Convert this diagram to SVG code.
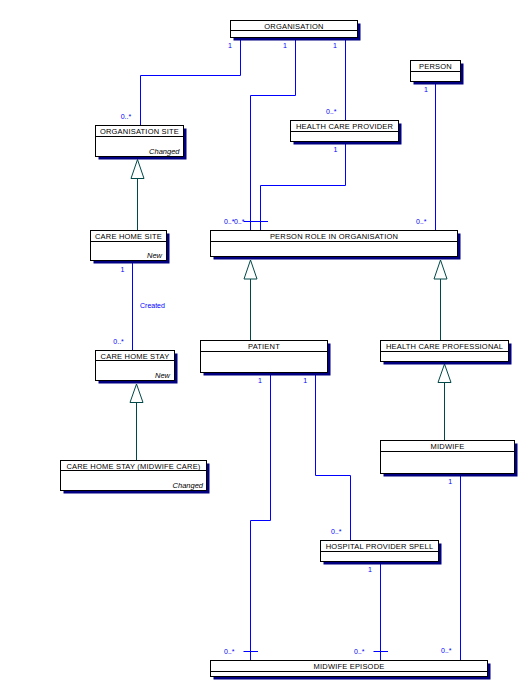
<svg xmlns="http://www.w3.org/2000/svg" width="529" height="691" viewBox="0 0 529 691">
<style>
.box{fill:#fff;stroke:#000;stroke-width:1}
.sh{fill:#000080}
.hd{stroke:#000;stroke-width:1}
.t{font-family:"Liberation Sans",Arial,sans-serif;font-size:7.5px;fill:#000;text-anchor:middle;letter-spacing:0.2px}
.st{font-family:"Liberation Sans",Arial,sans-serif;font-size:7.5px;font-style:italic;fill:#000;text-anchor:end}
.c{fill:none;stroke:#0000ff;stroke-width:1}
.g{fill:none;stroke:#004848;stroke-width:1}
.tri{fill:#fff;stroke:#004848;stroke-width:1}
.l{font-family:"Liberation Sans",Arial,sans-serif;font-size:7px;fill:#0000ff}
.lm{font-family:"Liberation Sans",Arial,sans-serif;font-size:7px;fill:#0000ff;text-anchor:middle}
</style>
<rect width="529" height="691" fill="#fff"/>
<g id="connectors">
<path class="c" d="M240.5,37.5 V75.5 H140.5 V125.5"/>
<path class="c" d="M295.5,37.5 V95.5 H250.5 V230.5"/>
<path class="c" d="M345.5,37.5 V120.5"/>
<path class="c" d="M345.5,141.5 V185.5 H260.5 V230.5"/>
<path class="c" d="M435.5,81.5 V230.5"/>
<path class="c" d="M243.5,221.5 H268"/>
<path class="c" d="M132.5,261 V350.5"/>
<path class="c" d="M270.5,372.5 V520.5 H250.5 V660.5"/>
<path class="c" d="M315.5,372.5 V475.5 H350.5 V540.5"/>
<path class="c" d="M380.5,561.5 V660.5"/>
<path class="c" d="M460.5,473.5 V660.5"/>
<path class="c" d="M243.5,651.5 H258 M373.5,651.5 H388"/>
<path class="g" d="M137.5,178.5 V230.5"/>
<polygon class="tri" points="137.5,159.5 131,178.5 144,178.5"/>
<path class="g" d="M250.5,279 V340.5"/>
<polygon class="tri" points="250.5,260 244,279 257,279"/>
<path class="g" d="M440.5,279 V340.5"/>
<polygon class="tri" points="440.5,260 434,279 447,279"/>
<path class="g" d="M136.5,402.5 V460.5"/>
<polygon class="tri" points="136.5,384 130,402.5 143,402.5"/>
<path class="g" d="M444.5,382.5 V440.5"/>
<polygon class="tri" points="444.5,364 438,382.5 451,382.5"/>
<text class="lm" x="230" y="47.5">1</text>
<text class="lm" x="285" y="47.5">1</text>
<text class="lm" x="335" y="47.5">1</text>
<text class="l" x="120.7" y="119">0..*</text>
<text class="l" x="326" y="113.5">0..*</text>
<text class="lm" x="335.5" y="152">1</text>
<text class="lm" x="426" y="92">1</text>
<text class="l" x="224" y="224">0..*</text>
<text class="l" x="234" y="224">0..*</text>
<text class="l" x="416" y="224">0..*</text>
<text class="lm" x="122.5" y="271.7">1</text>
<text class="l" x="140" y="307.5">Created</text>
<text class="l" x="113.3" y="343.5">0..*</text>
<text class="lm" x="260" y="382.7">1</text>
<text class="lm" x="305.3" y="382.7">1</text>
<text class="lm" x="450.3" y="483.7">1</text>
<text class="l" x="331" y="533.7">0..*</text>
<text class="lm" x="370" y="571.7">1</text>
<text class="l" x="224" y="654">0..*</text>
<text class="l" x="354" y="654">0..*</text>
<text class="l" x="441" y="652.7">0..*</text>
</g>
<g id="organisation">
<rect class="sh" x="233.5" y="23.5" width="127" height="17"/>
<rect class="box" x="230.5" y="20.5" width="127" height="17"/>
<line class="hd" x1="230.5" y1="30.5" x2="357.5" y2="30.5"/>
<text class="t" x="294" y="28.8">ORGANISATION</text>
</g>
<g id="organisation-site">
<rect class="sh" x="98.5" y="128.5" width="88" height="31"/>
<rect class="box" x="95.5" y="125.5" width="88" height="31"/>
<line class="hd" x1="95.5" y1="136.5" x2="183.5" y2="136.5"/>
<text class="t" x="139.5" y="134">ORGANISATION SITE</text>
<text class="st" x="179.5" y="153.8">Changed</text>
</g>
<g id="health-care-provider">
<rect class="sh" x="293.5" y="123.5" width="108" height="21"/>
<rect class="box" x="290.5" y="120.5" width="108" height="21"/>
<line class="hd" x1="290.5" y1="131.5" x2="398.5" y2="131.5"/>
<text class="t" x="344.5" y="129">HEALTH CARE PROVIDER</text>
</g>
<g id="person">
<rect class="sh" x="413.5" y="63.5" width="50" height="21"/>
<rect class="box" x="410.5" y="60.5" width="50" height="21"/>
<line class="hd" x1="410.5" y1="71.5" x2="460.5" y2="71.5"/>
<text class="t" x="435.5" y="69">PERSON</text>
</g>
<g id="person-role-in-organisation">
<rect class="sh" x="213.5" y="233.5" width="247" height="26"/>
<rect class="box" x="210.5" y="230.5" width="247" height="26"/>
<line class="hd" x1="210.5" y1="241.5" x2="457.5" y2="241.5"/>
<text class="t" x="334" y="238.8">PERSON ROLE IN ORGANISATION</text>
</g>
<g id="care-home-site">
<rect class="sh" x="93.5" y="233.5" width="76" height="30"/>
<rect class="box" x="90.5" y="230.5" width="76" height="30"/>
<line class="hd" x1="90.5" y1="241.5" x2="166.5" y2="241.5"/>
<text class="t" x="128.5" y="239">CARE HOME SITE</text>
<text class="st" x="162" y="258.3">New</text>
</g>
<g id="care-home-stay">
<rect class="sh" x="98.5" y="353.5" width="79" height="30"/>
<rect class="box" x="95.5" y="350.5" width="79" height="30"/>
<line class="hd" x1="95.5" y1="360.5" x2="174.5" y2="360.5"/>
<text class="t" x="135" y="358.5">CARE HOME STAY</text>
<text class="st" x="170" y="378.3">New</text>
</g>
<g id="care-home-stay-midwife-care">
<rect class="sh" x="63.5" y="463.5" width="146" height="30"/>
<rect class="box" x="60.5" y="460.5" width="146" height="30"/>
<line class="hd" x1="60.5" y1="470.5" x2="206.5" y2="470.5"/>
<text class="t" x="133.5" y="468.5">CARE HOME STAY (MIDWIFE CARE)</text>
<text class="st" x="203" y="488.3">Changed</text>
</g>
<g id="patient">
<rect class="sh" x="203.5" y="343.5" width="127" height="32"/>
<rect class="box" x="200.5" y="340.5" width="127" height="32"/>
<line class="hd" x1="200.5" y1="351.5" x2="327.5" y2="351.5"/>
<text class="t" x="264" y="348.8">PATIENT</text>
</g>
<g id="health-care-professional">
<rect class="sh" x="383.5" y="343.5" width="128" height="21"/>
<rect class="box" x="380.5" y="340.5" width="128" height="21"/>
<line class="hd" x1="380.5" y1="351.5" x2="508.5" y2="351.5"/>
<text class="t" x="444.5" y="348.8">HEALTH CARE PROFESSIONAL</text>
</g>
<g id="midwife">
<rect class="sh" x="383.5" y="443.5" width="134" height="33"/>
<rect class="box" x="380.5" y="440.5" width="134" height="33"/>
<line class="hd" x1="380.5" y1="451.5" x2="514.5" y2="451.5"/>
<text class="t" x="447.5" y="448.8">MIDWIFE</text>
</g>
<g id="hospital-provider-spell">
<rect class="sh" x="323.5" y="543.5" width="118" height="21"/>
<rect class="box" x="320.5" y="540.5" width="118" height="21"/>
<line class="hd" x1="320.5" y1="551.5" x2="438.5" y2="551.5"/>
<text class="t" x="379.5" y="548.8">HOSPITAL PROVIDER SPELL</text>
</g>
<g id="midwife-episode">
<rect class="sh" x="213.5" y="663.5" width="277" height="16"/>
<rect class="box" x="210.5" y="660.5" width="277" height="16"/>
<line class="hd" x1="210.5" y1="671.5" x2="487.5" y2="671.5"/>
<text class="t" x="349" y="668.8">MIDWIFE EPISODE</text>
</g>
</svg>
